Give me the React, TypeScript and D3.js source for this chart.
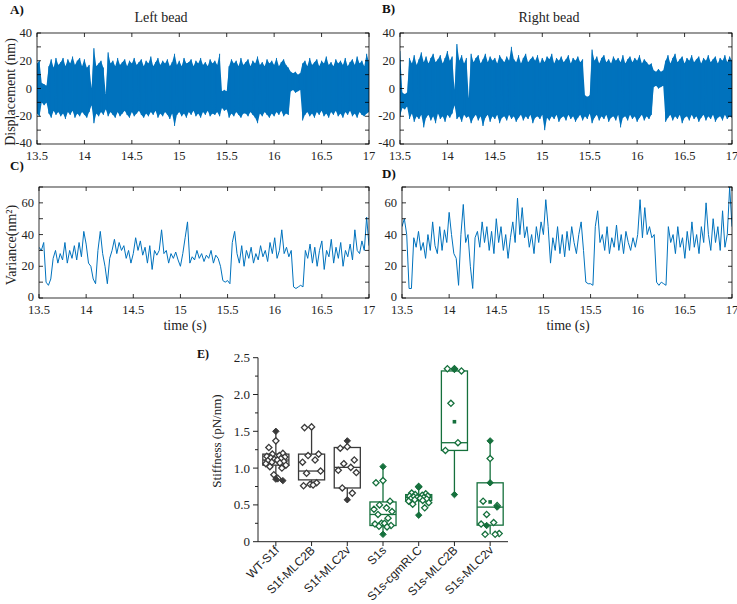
import React from "react";
import * as d3 from "d3";

// ---------- DATA ----------
const T0 = 13.5;
const DT = 0.025;

const leftHi = [18,20,4,3,2,16,21,15,22,17,19,22,16,21,18,23,17,20,22,16,21,15,17,0,29,16,18,20,15,-4,26,18,20,16,22,17,19,21,16,20,18,22,17,19,21,16,20,18,23,16,19,22,17,20,18,21,16,19,25,17,20,16,22,18,19,21,16,20,18,22,17,19,16,21,18,20,17,25,-2,-1,-2,16,21,18,20,16,22,17,19,21,16,20,18,23,17,19,16,21,18,20,17,22,16,19,21,17,15,12,11,12,10,11,18,20,16,22,17,19,21,16,20,18,23,17,19,16,21,18,20,17,22,16,19,21,17,23,18,20,16,25,19];
const leftLo = [-18,-20,-10,-12,-10,-18,-21,-16,-19,-17,-20,-18,-22,-17,-19,-16,-21,-18,-20,-17,-19,-21,-17,-12,-25,-18,-20,-17,-19,-15,-20,-17,-19,-21,-17,-20,-18,-16,-19,-21,-17,-20,-18,-16,-19,-21,-18,-20,-17,-19,-16,-21,-18,-20,-17,-19,-22,-18,-27,-19,-17,-20,-18,-21,-17,-19,-16,-20,-18,-21,-17,-19,-16,-20,-18,-19,-17,-20,-14,-16,-15,-21,-18,-20,-17,-19,-21,-18,-18,-20,-17,-19,-21,-25,-18,-20,-17,-19,-21,-18,-20,-17,-19,-16,-20,-18,-19,-2,-1,-3,-2,-1,-23,-19,-17,-20,-18,-21,-17,-19,-16,-20,-18,-21,-17,-19,-16,-20,-18,-21,-17,-19,-16,-20,-18,-21,-17,-19,-20,-18,-17];
const rightHi = [27,-3,-4,-3,22,18,24,17,21,26,19,23,18,22,25,19,21,24,18,22,27,20,23,-1,32,20,24,18,22,-7,25,19,22,24,18,21,25,19,23,20,22,18,24,21,19,23,20,30,21,19,24,18,22,25,19,21,23,20,24,18,22,19,23,21,25,18,22,20,23,19,21,24,18,22,20,23,19,21,-5,-6,-5,28,20,23,18,22,24,19,21,18,23,20,22,19,24,18,21,23,19,22,20,24,18,21,19,17,18,13,12,14,12,13,20,24,18,22,25,19,21,23,18,22,20,24,19,21,23,18,22,20,24,19,21,23,18,22,20,24,19,23,20];
const rightLo = [-20,-14,-15,-13,-22,-18,-24,-20,-22,-19,-28,-21,-19,-23,-20,-25,-18,-22,-20,-24,-19,-21,-18,-12,-22,-20,-24,-19,-21,-20,-25,-21,-19,-23,-20,-27,-21,-19,-24,-20,-22,-19,-25,-21,-20,-23,-19,-22,-20,-24,-21,-19,-23,-20,-22,-19,-25,-21,-20,-22,-19,-30,-21,-23,-20,-22,-19,-24,-21,-20,-23,-19,-22,-20,-24,-21,-19,-23,-20,-22,-18,-25,-21,-19,-23,-20,-22,-19,-24,-21,-20,-23,-19,-28,-21,-20,-23,-19,-22,-20,-24,-21,-19,-23,-20,-22,-19,1,2,0,1,2,-24,-21,-19,-23,-20,-22,-19,-25,-21,-20,-23,-19,-22,-20,-24,-21,-19,-23,-20,-22,-19,-24,-21,-20,-23,-19,-22,-20,-21];

const leftVar = [32,30,35,10,8,12,25,30,22,28,24,35,22,30,25,33,24,35,26,42,34,22,20,12,9,30,42,28,20,9,25,30,37,28,35,30,33,25,30,22,28,38,30,36,27,32,22,33,18,30,27,30,43,28,30,22,28,25,29,24,20,28,38,48,22,26,24,30,25,28,23,27,25,30,22,27,25,20,11,10,11,9,35,42,28,22,33,20,30,25,32,22,28,24,33,26,30,23,35,28,38,25,30,43,28,32,26,30,7,6,7,8,7,30,25,34,22,32,20,30,36,18,30,26,37,22,32,25,35,20,30,26,34,24,43,30,28,36,30,51,33];
const rightVar = [45,50,40,6,6,38,32,42,30,35,25,40,30,48,33,28,45,30,43,35,54,40,28,25,8,40,59,35,40,20,6,38,42,32,48,35,45,30,42,28,50,35,45,30,40,25,38,48,35,63,40,57,38,45,32,40,28,45,35,48,40,62,45,22,38,30,45,28,40,26,42,30,45,35,28,40,48,30,10,9,9,8,45,55,35,40,30,45,28,38,32,46,30,40,28,42,35,30,38,32,40,62,38,57,40,45,38,40,10,8,10,9,8,45,35,40,28,45,32,38,25,42,30,48,32,40,28,45,35,60,40,30,50,35,45,30,55,32,40,70,45];

const timeTicks = [13.5, 14, 14.5, 15, 15.5, 16, 16.5, 17];
const dispTicks = [-40, -30, -20, -10, 0, 10, 20, 30, 40];
const dispLabels = [-40, -20, 0, 20, 40];
const varTicks = [0, 10, 20, 30, 40, 50, 60, 70];
const varLabels = [0, 20, 40, 60];

const categories = ["WT-S1f", "S1f-MLC2B", "S1f-MLC2v", "S1s", "S1s-cgmRLC", "S1s-MLC2B", "S1s-MLC2v"];
const q1 = [1.04, 0.84, 0.73, 0.22, 0.56, 1.24, 0.225];
const median = [1.11, 0.96, 1.01, 0.37, 0.60, 1.345, 0.47];
const q3 = [1.19, 1.19, 1.28, 0.54, 0.64, 2.32, 0.80];
const whiskerLo = [0.83, 0.76, 0.57, 0.10, 0.36, 0.64, 0.10];
const whiskerHi = [1.50, 1.56, 1.37, 1.02, 0.75, 2.35, 1.37];
const means = [null, null, null, null, null, 1.63, 0.54];
const openPoints = [
  [1.37, 1.28, 1.20, 1.19, 1.17, 1.16, 1.15, 1.14, 1.13, 1.12, 1.11, 1.10, 1.09, 1.08, 1.07, 1.06, 1.04, 1.02, 1.00, 0.91, 0.86],
  [1.56, 1.55, 1.19, 1.17, 1.11, 1.08, 0.96, 0.93, 0.80, 0.78, 0.77, 0.76],
  [1.29, 1.27, 1.11, 1.06, 1.01, 0.97, 0.94, 0.73, 0.66],
  [0.83, 0.80, 0.55, 0.50, 0.46, 0.44, 0.41, 0.37, 0.32, 0.25, 0.25, 0.24, 0.22, 0.21, 0.20],
  [0.75, 0.66, 0.65, 0.64, 0.63, 0.62, 0.62, 0.61, 0.60, 0.60, 0.59, 0.58, 0.58, 0.57, 0.56, 0.55, 0.53, 0.51, 0.46],
  [2.35, 2.35, 2.32, 1.88, 1.345, 1.24],
  [1.13, 0.55, 0.49, 0.37, 0.26, 0.24, 0.11, 0.10, 0.10],
];
const filledPoints = [
  [1.50, 0.85, 0.83],
  [],
  [1.37, 0.57],
  [1.02, 0.10],
  [0.74, 0.36],
  [2.34, 0.64],
  [1.37, 0.80, 0.47, 0.22],
];

// ---------- STYLE ----------
const BLUE = "#0072BD";
const GRAY = "#3a3a3a";
const GREEN = "#15703c";
const SERIF = "'Liberation Serif', 'Times New Roman', serif";
const SANS = "'Liberation Sans', Arial, sans-serif";

const times = leftVar.map((_, i) => T0 + i * DT);

type PanelProps = {
  id: string;
  x0: number; x1: number; y0: number; y1: number;
  yDomain: [number, number];
  yTicks: number[]; yLabels: number[];
  kind: "disp" | "var";
  hi?: number[]; lo?: number[]; vals?: number[];
};

function TracePanel(p: PanelProps) {
  const x = d3.scaleLinear().domain([13.5, 17]).range([p.x0, p.x1]);
  const y = d3.scaleLinear().domain(p.yDomain).range([p.y1, p.y0]);
  let d = "";
  let areaD = "";
  if (p.kind === "disp" && p.hi && p.lo) {
    const pts: [number, number][] = [];
    p.hi.forEach((h, i) => {
      pts.push([times[i], h]);
      pts.push([times[i], p.lo![i]]);
    });
    d = d3.line<[number, number]>().x((q) => x(q[0])).y((q) => y(q[1]))(pts) || "";
    areaD = d3.area<number>().x((_, i) => x(times[i])).y0((_, i) => y(p.lo![i])).y1((h) => y(h))(p.hi) || "";
  } else if (p.vals) {
    d = d3.line<number>().x((_, i) => x(times[i])).y((v) => y(v))(p.vals) || "";
  }
  const tl = 4;
  return (
    <g>
      <clipPath id={p.id}>
        <rect x={p.x0} y={p.y0} width={p.x1 - p.x0} height={p.y1 - p.y0} />
      </clipPath>
      {areaD && <path d={areaD} fill={BLUE} stroke="none" clipPath={`url(#${p.id})`} />}
      <path d={d} fill="none" stroke={BLUE} strokeWidth={p.kind === "disp" ? 0.7 : 1} strokeLinejoin="round" clipPath={`url(#${p.id})`} />
      <rect x={p.x0} y={p.y0} width={p.x1 - p.x0} height={p.y1 - p.y0} fill="none" stroke="#000" strokeWidth={0.8} />
      {timeTicks.map((t) => (
        <g key={"xt" + t}>
          <line x1={x(t)} x2={x(t)} y1={p.y1} y2={p.y1 - tl} stroke="#000" strokeWidth={0.8} />
          <line x1={x(t)} x2={x(t)} y1={p.y0} y2={p.y0 + tl} stroke="#000" strokeWidth={0.8} />
          <text x={x(t)} y={p.y1 + 15.5} textAnchor="middle" fontFamily={SERIF} fontSize={12.5} fill="#222">{String(t)}</text>
        </g>
      ))}
      {p.yTicks.map((v) => (
        <g key={"yt" + v}>
          <line x1={p.x0} x2={p.x0 + tl} y1={y(v)} y2={y(v)} stroke="#000" strokeWidth={0.8} />
          <line x1={p.x1} x2={p.x1 - tl} y1={y(v)} y2={y(v)} stroke="#000" strokeWidth={0.8} />
        </g>
      ))}
      {p.yLabels.map((v) => (
        <text key={"yl" + v} x={p.x0 - 5} y={y(v) + (v === p.yDomain[0] ? 2.5 : 4)} textAnchor="end" fontFamily={SERIF} fontSize={12.5} fill="#222">{String(v)}</text>
      ))}
    </g>
  );
}

function diamond(cx: number, cy: number, r: number) {
  return `M${cx},${cy - r}L${cx + r},${cy}L${cx},${cy + r}L${cx - r},${cy}Z`;
}

const jitter = [0, -7, 7, -3.5, 3.5, -9, 9, -5, 5, -1.5, 1.5, -8, 8, -4, 4, -10, 10, -6, 6, -2, 2];

function BoxPanel() {
  const x = d3.scaleBand().domain(categories).range([258, 508]).paddingInner(0.27).paddingOuter(0.135);
  const y = d3.scaleLinear().domain([0, 2.5]).range([541.7, 357.7]);
  const bw = x.bandwidth();
  const majors = [0, 0.5, 1.0, 1.5, 2.0, 2.5];
  const minors = [0.25, 0.75, 1.25, 1.75, 2.25];
  return (
    <g>
      {categories.map((c, i) => {
        const col = i < 3 ? GRAY : GREEN;
        const cx = (x(c) || 0) + bw / 2;
        const bx = x(c) || 0;
        return (
          <g key={c}>
            <line x1={cx} x2={cx} y1={y(whiskerHi[i])} y2={y(q3[i])} stroke={col} strokeWidth={1.3} />
            <line x1={cx} x2={cx} y1={y(q1[i])} y2={y(whiskerLo[i])} stroke={col} strokeWidth={1.3} />
            <rect x={bx} y={y(q3[i])} width={bw} height={y(q1[i]) - y(q3[i])} fill="none" stroke={col} strokeWidth={1.3} />
            <line x1={bx} x2={bx + bw} y1={y(median[i])} y2={y(median[i])} stroke={col} strokeWidth={1.3} />
            {openPoints[i].map((v, j) => (
              <path key={"o" + j} d={diamond(cx + jitter[j % jitter.length] * (bw / 26), y(v), 3.1)} fill="#fff" stroke={col} strokeWidth={1.3} />
            ))}
            {filledPoints[i].map((v, j) => (
              <path key={"f" + j} d={diamond(cx + (j > 1 ? jitter[j] : 0), y(v), 3.2)} fill={col} stroke={col} strokeWidth={1} />
            ))}
            {means[i] != null && (
              <rect x={cx - 1.8} y={y(means[i] as number) - 1.8} width={3.6} height={3.6} fill={col} />
            )}
          </g>
        );
      })}
      <line x1={258} x2={258} y1={357.7} y2={541.7} stroke="#222" strokeWidth={1} />
      <line x1={258} x2={508} y1={541.7} y2={541.7} stroke="#222" strokeWidth={1} />
      {majors.map((v) => (
        <g key={"m" + v}>
          <line x1={253} x2={258} y1={y(v)} y2={y(v)} stroke="#222" strokeWidth={1} />
          <text x={250} y={y(v) + 4.5} textAnchor="end" fontFamily={SERIF} fontSize={13} fill="#222">{v === 0 ? "0" : v.toFixed(1)}</text>
        </g>
      ))}
      {minors.map((v) => (
        <line key={"n" + v} x1={255} x2={258} y1={y(v)} y2={y(v)} stroke="#222" strokeWidth={1} />
      ))}
      {categories.map((c) => {
        const cx = (x(c) || 0) + bw / 2;
        return (
          <g key={"xl" + c}>
            <line x1={cx} x2={cx} y1={541.7} y2={546} stroke="#222" strokeWidth={1} />
            <text transform={`translate(${cx + 4},${551}) rotate(-45)`} textAnchor="end" fontFamily={SANS} fontSize={12} fill="#222">{c}</text>
          </g>
        );
      })}
      <text transform="translate(221,441) rotate(-90)" textAnchor="middle" fontFamily={SERIF} fontSize={13} fill="#222">Stiffness (pN/nm)</text>
      <text x={197} y={358} fontFamily={SERIF} fontSize={12} fontWeight="bold" fill="#111">E)</text>
    </g>
  );
}

export default function App() {
  return (
    <svg width={737} height={604} style={{ position: "absolute", left: 0, top: 0, background: "#fff" }}>
      <rect x={0} y={0} width={737} height={604} fill="#fff" />
      <text x={10} y={14} fontFamily={SERIF} fontSize={13} fontWeight="bold" fill="#111">A)</text>
      <text x={382} y={13} fontFamily={SERIF} fontSize={13} fontWeight="bold" fill="#111">B)</text>
      <text x={10} y={170} fontFamily={SERIF} fontSize={13} fontWeight="bold" fill="#111">C)</text>
      <text x={382} y={178} fontFamily={SERIF} fontSize={13} fontWeight="bold" fill="#111">D)</text>
      <text x={161} y={22} textAnchor="middle" fontFamily={SERIF} fontSize={14} fill="#222">Left bead</text>
      <text x={549} y={22} textAnchor="middle" fontFamily={SERIF} fontSize={14} fill="#222">Right bead</text>
      <text transform="translate(15,92) rotate(-90)" textAnchor="middle" fontFamily={SERIF} fontSize={14} fill="#222">Displacement (nm)</text>
      <text transform="translate(16,245) rotate(-90)" textAnchor="middle" fontFamily={SERIF} fontSize={14} fill="#222">Variance(nm²)</text>
      <text x={185} y={330} textAnchor="middle" fontFamily={SERIF} fontSize={14} fill="#222">time (s)</text>
      <text x={568} y={330} textAnchor="middle" fontFamily={SERIF} fontSize={14} fill="#222">time (s)</text>
      <TracePanel id="cA" x0={37} x1={369} y0={33} y1={144} yDomain={[-40, 40]} yTicks={dispTicks} yLabels={dispLabels} kind="disp" hi={leftHi} lo={leftLo} />
      <TracePanel id="cB" x0={400} x1={732} y0={33} y1={144} yDomain={[-40, 40]} yTicks={dispTicks} yLabels={dispLabels} kind="disp" hi={rightHi} lo={rightLo} />
      <TracePanel id="cC" x0={39} x1={369} y0={187} y1={298} yDomain={[0, 70]} yTicks={varTicks} yLabels={varLabels} kind="var" vals={leftVar} />
      <TracePanel id="cD" x0={402} x1={732} y0={187} y1={298} yDomain={[0, 70]} yTicks={varTicks} yLabels={varLabels} kind="var" vals={rightVar} />
      <BoxPanel />
    </svg>
  );
}
